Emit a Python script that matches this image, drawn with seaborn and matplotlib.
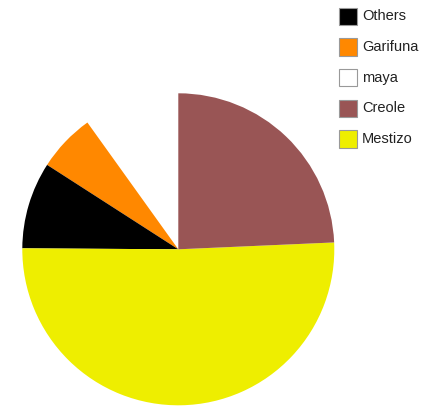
import matplotlib
matplotlib.use("Agg")
import matplotlib.pyplot as plt
from matplotlib.patches import Rectangle
import seaborn as sns

# Population share by ethnic group (%)
groups = ["maya", "Garifuna", "Others", "Mestizo", "Creole"]
shares = [9.9, 6.0, 9.0, 50.8, 24.3]
colors = ["#ffffff", "#ff8800", "#000000", "#eeee00", "#995555"]

legend_order = ["Others", "Garifuna", "maya", "Creole", "Mestizo"]

sns.set_style("white")
plt.rcParams["font.family"] = ["Liberation Sans", "DejaVu Sans"]

W, H = 431, 408
fig = plt.figure(figsize=(W / 100, H / 100), dpi=100)
fig.patch.set_facecolor("white")

# Pie axes: centre (178, 249) px from top-left, radius 156 px
cx, cy, r = 178.3, 249.3, 156
ax = fig.add_axes([(cx - r) / W, (H - cy - r) / H, 2 * r / W, 2 * r / H])
ax.pie(shares, colors=colors, startangle=90, counterclock=True,
       radius=1.0, wedgeprops=dict(linewidth=0))
ax.set_xlim(-1, 1)
ax.set_ylim(-1, 1)
ax.set_aspect("equal")
ax.axis("off")

# Legend on the right
color_of = dict(zip(groups, colors))
for i, name in enumerate(legend_order):
    top = 7.5 + i * 30.7
    box = Rectangle((339 / W, 1 - (top + 17.5) / H), 18 / W, 17.5 / H,
                    transform=fig.transFigure, facecolor=color_of[name],
                    edgecolor="#999999", linewidth=0.8)
    fig.add_artist(box)
    fig.text(362 / W, 1 - (top + 8.9) / H, name, ha="left", va="center",
             fontsize=10.5, color="#222222")

fig.savefig("out.png", dpi=100)
